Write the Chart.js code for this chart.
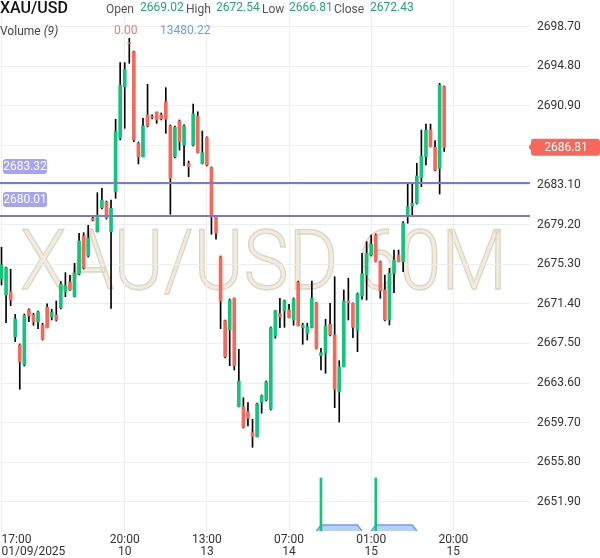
<!DOCTYPE html>
<html><head><meta charset="utf-8">
<script src="https://cdn.jsdelivr.net/npm/chart.js@4.4.1/dist/chart.umd.min.js"></script>
<style>
html,body{margin:0;padding:0;background:#fff;}
#wrap{position:relative;width:600px;height:558px;font-family:Roboto,sans-serif;overflow:hidden;}
#c{position:absolute;left:0;top:0;}
.t{position:absolute;font-size:12px;line-height:12px;white-space:nowrap;}
</style></head><body>
<div id="wrap">
<canvas id="c" width="600" height="558"></canvas>
<div class="t" style="left:0;top:0;font-size:16px;line-height:16px;font-weight:500;color:#111">XAU/USD</div>
<div class="t" style="left:106px;top:3px;color:#555">Open</div>
<div class="t" style="left:140px;top:1px;color:#22a86f">2669.02</div>
<div class="t" style="left:186px;top:3px;color:#555">High</div>
<div class="t" style="left:216px;top:1px;color:#22a86f">2672.54</div>
<div class="t" style="left:262px;top:3px;color:#555">Low</div>
<div class="t" style="left:289px;top:1px;color:#22a86f">2666.81</div>
<div class="t" style="left:334px;top:3px;color:#555">Close</div>
<div class="t" style="left:370px;top:1px;color:#22a86f">2672.43</div>
<div class="t" style="left:0;top:25px;color:#444">Volume <i>(9)</i></div>
<div class="t" style="left:114px;top:24px;color:#f07a70">0.00</div>
<div class="t" style="left:160px;top:24px;color:#6a9ff0">13480.22</div>
</div>
<script>
// ---- data ----
const opens  = [2673.85,2672.27,2672.60,2668.17,2667.35,2665.41,2670.80,2670.31,2669.62,2669.32,
 2671.06,2670.11,2670.31,2671.02,2672.57,2673.55,2672.11,2674.34,2678.08,2676.11,
 2679.82,2678.50,2680.87,2681.40,2678.50,2682.44,2687.70,2692.77,2697.10,2696.22,
 2687.20,2685.89,2689.99,2689.85,2690.26,2689.99,2691.30,2688.91,2685.89,2689.40,
 2687.04,2685.24,2687.04,2689.89,2685.22,2687.77,2684.80,2679.98,2676.04,2669.74,
 2668.83,2671.95,2661.28,2661.28,2660.79,2658.72,2658.33,2661.71,2661.94,2661.05,
 2668.24,2670.43,2670.73,2670.80,2669.81,2673.55,2669.05,2668.50,2669.07,2671.49,
 2666.30,2666.53,2669.39,2668.34,2662.76,2665.22,2671.68,2671.46,2668.83,2672.17,
 2674.24,2676.21,2678.18,2675.55,2672.77,2669.81,2674.41,2676.21,2675.55,2679.98,
 2681.03,2681.30,2683.82,2685.89,2688.51,2686.81,2684.74,2692.77];
const highs  = [2676.97,2675.03,2674.80,2670.37,2667.45,2670.40,2670.90,2670.47,2670.70,2669.49,
 2671.39,2670.87,2671.68,2673.58,2674.47,2674.21,2675.39,2678.35,2678.40,2679.13,
 2679.98,2682.34,2682.77,2681.52,2681.62,2689.57,2695.14,2695.14,2697.54,2696.29,
 2687.33,2689.66,2693.01,2690.00,2690.29,2690.19,2692.68,2689.01,2688.91,2689.50,
 2689.01,2685.46,2691.07,2690.31,2688.41,2687.85,2684.87,2680.05,2676.11,2669.81,
 2671.88,2671.98,2666.93,2662.16,2661.67,2660.04,2661.64,2662.43,2663.81,2669.12,
 2670.75,2671.95,2671.78,2671.36,2671.98,2673.65,2669.49,2669.49,2673.65,2671.54,
 2667.03,2669.88,2671.46,2674.07,2665.81,2672.77,2673.92,2671.49,2672.47,2676.38,
 2677.52,2678.18,2678.28,2675.62,2674.24,2674.90,2676.70,2676.70,2679.49,2683.27,
 2683.27,2685.24,2688.51,2689.10,2689.10,2687.46,2693.11,2692.84];
const lows   = [2673.26,2669.55,2671.22,2667.68,2662.99,2665.28,2669.64,2669.29,2668.96,2667.84,
 2669.02,2669.81,2669.71,2670.90,2672.11,2672.72,2672.08,2674.24,2674.83,2676.01,
 2679.56,2678.47,2680.74,2679.75,2670.96,2681.79,2687.53,2688.68,2695.08,2687.36,
 2685.17,2685.86,2688.81,2689.60,2689.17,2689.50,2688.19,2680.22,2685.76,2686.54,
 2685.00,2683.92,2686.94,2686.25,2685.17,2684.97,2678.25,2677.76,2668.96,2666.07,
 2665.31,2664.89,2661.25,2659.18,2659.38,2657.28,2658.30,2660.63,2661.84,2660.95,
 2668.01,2669.05,2669.09,2670.01,2669.29,2669.22,2667.42,2667.84,2669.02,2666.96,
 2664.89,2664.57,2668.24,2661.18,2659.77,2665.19,2669.81,2668.07,2666.69,2671.85,
 2671.78,2676.11,2675.52,2671.95,2669.71,2669.32,2672.50,2675.52,2674.57,2679.33,
 2679.98,2681.23,2682.93,2685.07,2686.84,2684.48,2682.21,2686.40];
const closes = [2675.23,2674.96,2671.78,2669.91,2665.71,2670.27,2670.21,2669.62,2670.60,2667.91,
 2669.05,2670.60,2669.81,2673.36,2673.19,2672.77,2674.44,2677.59,2674.93,2677.88,
 2679.65,2680.15,2681.62,2679.88,2680.81,2688.35,2692.94,2694.49,2697.00,2687.53,
 2685.89,2688.91,2688.91,2689.75,2689.50,2689.63,2689.57,2683.76,2688.78,2687.36,
 2688.91,2684.90,2690.09,2686.28,2686.28,2685.07,2679.95,2678.35,2671.68,2666.20,
 2671.78,2665.31,2663.81,2659.25,2660.14,2658.33,2661.54,2662.36,2663.71,2669.03,
 2670.73,2670.11,2671.71,2670.04,2671.88,2669.25,2669.32,2669.12,2671.95,2667.03,
 2666.59,2669.22,2668.34,2662.99,2665.22,2671.68,2671.51,2669.09,2672.37,2674.34,
 2676.38,2677.29,2675.55,2672.70,2669.81,2674.41,2675.72,2675.55,2679.33,2680.96,
 2681.30,2683.99,2685.95,2688.51,2686.87,2684.58,2692.94,2686.81];
const volumes = [0,0,0,0,0,0,0,0,0,0, 0,0,0,0,0,0,0,0,0,0, 0,0,0,0,0,0,0,0,0,0,
 0,0,0,0,0,0,0,0,0,0, 0,0,0,0,0,0,0,0,0,0, 0,0,0,0,0,0,0,0,0,0,
 0,0,0,0,0,0,0,0,0,0, 121322,0,0,0,0,0,0,0,0,0, 0,0,121322,0,0,0,0,0,0,0,
 0,0,0,0,0,0,0,0];
const volMA = [0,0,0,0,0,0,0,0,0,0, 0,0,0,0,0,0,0,0,0,0, 0,0,0,0,0,0,0,0,0,0,
 0,0,0,0,0,0,0,0,0,0, 0,0,0,0,0,0,0,0,0,0, 0,0,0,0,0,0,0,0,0,0,
 0,0,0,0,0,0,0,0,0,0, 13480.22,13480.22,13480.22,13480.22,13480.22,13480.22,13480.22,13480.22,13480.22,0,
 0,0,13480.22,13480.22,13480.22,13480.22,13480.22,13480.22,13480.22,13480.22,
 13480.22,0,0,0,0,0,0,0];
const xTickPos = [0, 27, 45, 63, 81, 99];
const xTickLabels = [["17:00","01/09/2025"],["20:00","10"],["13:00","13"],["07:00","14"],["01:00","15"],["20:00","15"]];
const yTicks = [2651.90,2655.80,2659.70,2663.60,2667.50,2671.40,2675.30,2679.20,2683.10,2687.00,2690.90,2694.80,2698.70];
const hLevels = [2683.32, 2680.01];
const lastPrice = 2686.81;
const watermarkText = "XAU/USD 60M";

// ---- styling ----
const GREEN = '#12c47c', RED = '#f7675c';
const xMin = -0.33, xMax = 115.8;
const yMin = 2649.04, yMax = 2701.31;
const volMax = 121322 * 531 / 53;

const wickData = opens.map((o,i)=>({x:i, y:[lows[i], highs[i]]}));
const bodyData = opens.map((o,i)=>({x:i, y:[o, closes[i]]}));
const bodyColors = opens.map((o,i)=> closes[i] >= o ? GREEN : RED);
const volData = volumes.map((v,i)=> v>0 ? {x:i, y:v} : null).filter(Boolean);
const maData = volMA.map((v,i)=>{
  const near = v>0 || volMA[i+1]>0 || volMA[i-1]>0;
  return {x:i, y: near ? v : null};
});

const watermark = {
  id:'wm',
  beforeDraw(chart){
    const ctx = chart.ctx;
    ctx.save();
    ctx.font = '300 83px Roboto';
    const w = ctx.measureText(watermarkText).width;
    ctx.translate(20, 289);
    ctx.scale(487 / w, 1);
    ctx.textBaseline = 'alphabetic';
    ctx.fillStyle = '#f0ece2';
    ctx.fillText(watermarkText, 0, 0);
    ctx.strokeStyle = '#ddd5c0';
    ctx.lineWidth = 1.3;
    ctx.strokeText(watermarkText, 0, 0);
    ctx.restore();
  }
};

function rr(ctx, x, y, w, h, r){
  ctx.beginPath();
  ctx.moveTo(x+r, y); ctx.lineTo(x+w-r, y); ctx.quadraticCurveTo(x+w, y, x+w, y+r);
  ctx.lineTo(x+w, y+h-r); ctx.quadraticCurveTo(x+w, y+h, x+w-r, y+h);
  ctx.lineTo(x+r, y+h); ctx.quadraticCurveTo(x, y+h, x, y+h-r);
  ctx.lineTo(x, y+r); ctx.quadraticCurveTo(x, y, x+r, y);
  ctx.closePath();
}

const levels = {
  id:'levels',
  afterDatasetsDraw(chart){
    const {ctx, chartArea:a, scales:{y}} = chart;
    ctx.save();
    hLevels.forEach(v=>{
      const py = Math.round(y.getPixelForValue(v));
      ctx.fillStyle = '#7b7bc2';
      ctx.fillRect(a.left, py-1, a.right-a.left, 2);
      const bw = 44, bh = 15, bx = 3, by = py - 16.5 - bh/2;
      ctx.fillStyle = '#a5a4f3';
      rr(ctx, bx, by, bw, bh, 3); ctx.fill();
      ctx.fillStyle = '#fff';
      ctx.font = '12px Roboto';
      ctx.textAlign = 'center'; ctx.textBaseline = 'middle';
      ctx.fillText(v.toFixed(2), bx + bw/2, by + bh/2 + 0.5);
    });
    ctx.restore();
  },
  afterDraw(chart){
    const {ctx, scales:{y}} = chart;
    const py = y.getPixelForValue(lastPrice);
    ctx.save();
    ctx.fillStyle = RED;
    rr(ctx, 531, py - 8.5, 69, 17, 3); ctx.fill();
    ctx.beginPath(); ctx.arc(532, py, 3, 0, Math.PI*2); ctx.fill();
    ctx.fillStyle = '#fff';
    ctx.font = '12px Roboto';
    ctx.textAlign = 'center'; ctx.textBaseline = 'middle';
    ctx.fillText(lastPrice.toFixed(2), 566, py + 0.5);
    ctx.restore();
  }
};

new Chart(document.getElementById('c'), {
  type: 'bar',
  data: {
    datasets: [
      { label:'body', data: bodyData, backgroundColor: bodyColors, barThickness: 3, minBarLength: 1, yAxisID:'y', order: 1 },
      { label:'wick', data: wickData, backgroundColor: '#000', barThickness: 1, yAxisID:'y', order: 2 },
      { label:'vol', data: volData, backgroundColor: GREEN, barThickness: 2, yAxisID:'yv', order: 3 },
      { type:'line', label:'volMA', data: maData, yAxisID:'yv', borderColor:'#6b9ff0', borderWidth:1.5,
        backgroundColor:'rgba(125,168,240,0.55)', fill:'origin', pointRadius:0, spanGaps:false, tension:0, order: 4 }
    ]
  },
  options: {
    responsive: false,
    animation: false,
    layout: { padding: 0 },
    datasets: { bar: { grouped: false } },
    plugins: { legend:{display:false}, tooltip:{enabled:false} },
    scales: {
      x: {
        type:'linear', min:xMin, max:xMax, offset:false,
        grid: { offset:false, drawTicks:false, color: c => (c.tick && c.tick.value === xMax) ? 'rgba(0,0,0,0)' : '#eeeeee' },
        border: { display:false },
        afterBuildTicks: s => { s.ticks = xTickPos.map(v=>({value:v})).concat([{value:xMax}]); },
        afterFit: s => { s.height = 27; s.paddingLeft = 0; s.paddingRight = 0; s.paddingTop = 0; s.paddingBottom = 0; },
        ticks: { autoSkip:false, maxRotation:0, align:'inner', padding:3, color:'#333',
          font:{ family:'Roboto', size:12, lineHeight:1 },
          callback: (v, i) => xTickLabels[i] !== undefined ? xTickLabels[i] : '' }
      },
      y: {
        position:'right', min:yMin, max:yMax,
        grid: { drawTicks:false, color:'#eeeeee' },
        border: { display:false },
        afterBuildTicks: s => { s.ticks = yTicks.map(v=>({value:v})); },
        afterFit: s => { s.width = 70; s.paddingTop = 0; s.paddingBottom = 0; s.paddingLeft = 0; s.paddingRight = 0; },
        ticks: { padding:7, color:'#333', font:{ family:'Roboto', size:12 }, callback: v => Number(v).toFixed(2) }
      },
      yv: { display:false, min:0, max:volMax }
    }
  },
  plugins: [watermark, levels]
});
</script>
</body></html>
